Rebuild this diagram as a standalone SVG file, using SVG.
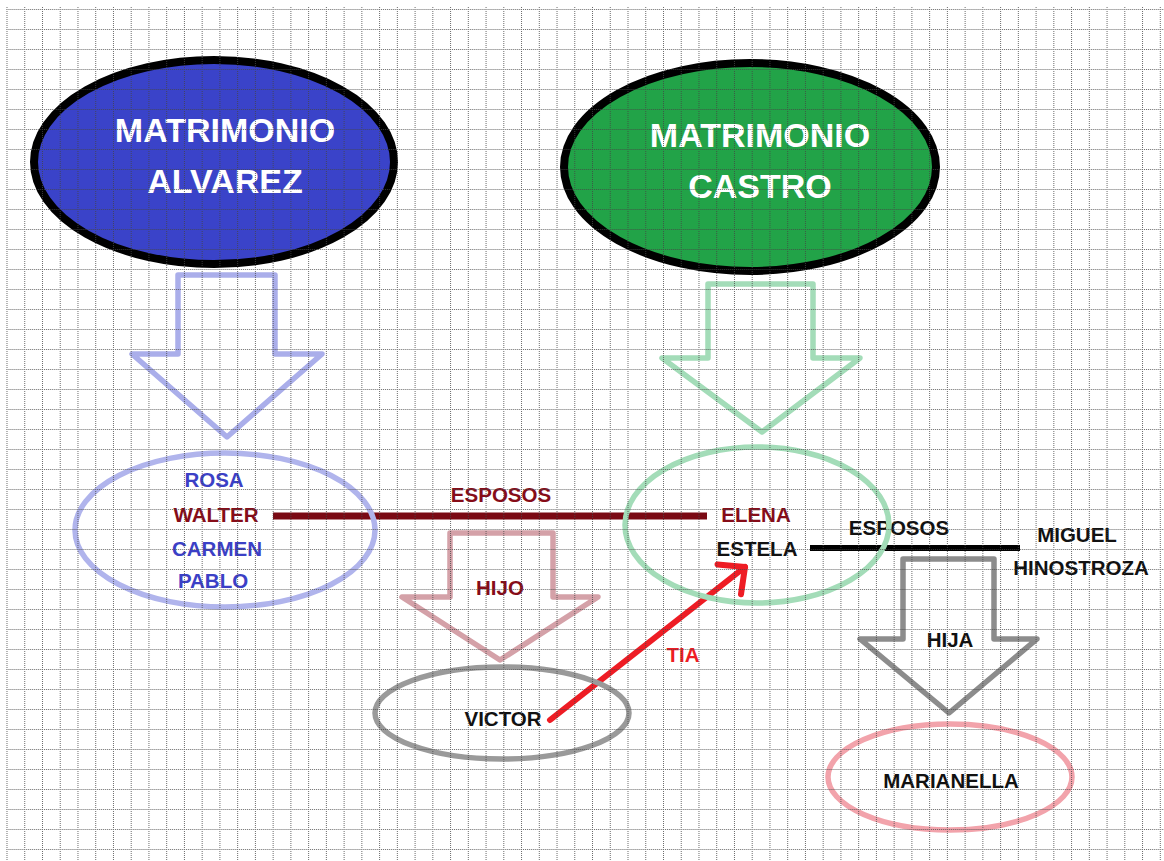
<svg xmlns="http://www.w3.org/2000/svg" width="1164" height="861" viewBox="0 0 1164 861">
  <style>
    .t { font-family: "Liberation Sans", Arial, sans-serif; font-weight: bold; font-size: 20.5px; text-anchor: middle; }
    .title { font-family: "Liberation Sans", Arial, sans-serif; font-weight: bold; font-size: 34px; fill: #ffffff; text-anchor: middle; }
    .blue { fill: #3b40c6; }
    .red { fill: #860c18; }
    .blk { fill: #111111; }
    .soft { fill: none; stroke-width: 5.5; stroke-linejoin: round; stroke-linecap: round; }
  </style>
  <defs>
    <pattern id="grid" patternUnits="userSpaceOnUse" x="6.5" y="9" width="17.743" height="20">
      <path d="M0.5,0 V20" stroke="#444" stroke-width="1" stroke-dasharray="1 1" fill="none"/>
      <path d="M0,0.5 H17.743" stroke="#444" stroke-width="1" stroke-dasharray="1 1" fill="none"/>
    </pattern>
    <marker id="openhead" markerUnits="userSpaceOnUse" markerWidth="40" markerHeight="50" refX="0" refY="0" viewBox="-30 -25 40 50" orient="auto" overflow="visible">
      <path d="M-20,-19 L0,0 L-20,19" fill="none" stroke="#ee1c24" stroke-width="6" stroke-linecap="round" stroke-linejoin="round"/>
    </marker>
  </defs>

  <rect x="0" y="0" width="1164" height="861" fill="#ffffff"/>

  <g id="connectors">
    <polygon class="soft" stroke="#aaaeea" points="178,275 275,275 275,354 322,354 227,437 132,354 178,354"/>
    <polygon class="soft" stroke="#a3dcb8" points="708,284 813,284 813,358 860,358 762,432 662,358 708,358"/>
    <line x1="273" y1="516" x2="707" y2="516" stroke="#7a0a14" stroke-width="7"/>
    <text class="t red" x="501" y="502">ESPOSOS</text>
    <polygon class="soft" stroke="#d4a1a8" points="450,533 553,533 553,597 598,597 500,660 402,597 450,597"/>
    <text class="t red" x="500" y="595">HIJO</text>
    <line x1="810" y1="548" x2="1020" y2="548" stroke="#000000" stroke-width="6"/>
    <text class="t blk" x="899" y="535">ESPOSOS</text>
    <polygon class="soft" stroke="#8c8c8c" points="903,559 994,559 994,639 1037,639 949,713 860,639 903,639"/>
    <text class="t blk" x="950" y="647">HIJA</text>
    <line x1="550" y1="720" x2="745" y2="567" stroke="#ee1c24" stroke-width="6" stroke-linecap="round" marker-end="url(#openhead)"/>
    <text class="t" x="683" y="662" fill="#ee1c24">TIA</text>
  </g>

  <g id="matrimonio-alvarez">
    <ellipse cx="214" cy="162" rx="180" ry="102" fill="#3a43c9" stroke="#000" stroke-width="8"/>
    <text class="title" x="225" y="142">MATRIMONIO</text>
    <text class="title" x="225" y="193">ALVAREZ</text>
  </g>

  <g id="matrimonio-castro">
    <ellipse cx="750" cy="167" rx="186" ry="104" fill="#22a348" stroke="#000" stroke-width="8"/>
    <text class="title" x="760" y="147">MATRIMONIO</text>
    <text class="title" x="760" y="198">CASTRO</text>
  </g>

  <g id="hijos-alvarez">
    <ellipse class="soft" cx="225" cy="530" rx="150" ry="77" stroke="#b0b4ec"/>
    <text class="t blue" x="214" y="487">ROSA</text>
    <text class="t red" x="216" y="522">WALTER</text>
    <text class="t blue" x="217" y="556">CARMEN</text>
    <text class="t blue" x="213" y="588">PABLO</text>
  </g>

  <g id="hijos-castro">
    <ellipse class="soft" cx="757" cy="525" rx="132" ry="78" stroke="#a3dcb8"/>
    <text class="t red" x="756" y="522">ELENA</text>
    <text class="t blk" x="757" y="556">ESTELA</text>
  </g>

  <g id="miguel">
    <text class="t blk" x="1077" y="542">MIGUEL</text>
    <text class="t blk" x="1081" y="575">HINOSTROZA</text>
  </g>

  <g id="victor">
    <ellipse class="soft" cx="502" cy="713" rx="127" ry="46" stroke="#9a9a9a"/>
    <text class="t blk" x="503" y="726">VICTOR</text>
  </g>

  <g id="marianella">
    <ellipse class="soft" cx="950" cy="777" rx="122" ry="53" stroke="#f2a3ab"/>
    <text class="t blk" x="951" y="788">MARIANELLA</text>
  </g>

  <rect x="6" y="7" width="1158" height="854" fill="url(#grid)" opacity="0.8" pointer-events="none"/>
</svg>
